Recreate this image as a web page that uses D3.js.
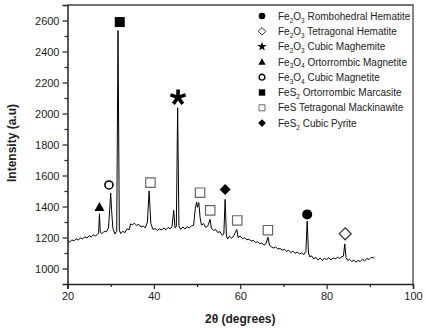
<!DOCTYPE html>
<html>
<head>
<meta charset="utf-8">
<script src="https://cdn.jsdelivr.net/npm/d3@7"></script>
<style>
  body { margin: 0; background: #fff; }
  svg { display: block; font-family: "Liberation Sans", Arial, sans-serif; }
</style>
</head>
<body>
<svg id="xrd" width="426" height="328"></svg>
<script>
// XRD pattern, 2theta (deg) vs intensity (a.u.)
var theta = [20.0,20.5,21.0,21.5,22.0,22.5,23.0,23.5,24.0,24.5,25.0,25.5,26.0,26.5,27.0,27.2,27.4,27.6,28.0,28.5,
  29.0,29.5,29.8,30.0,30.2,30.5,31.0,31.4,31.7,32.0,32.3,32.8,33.3,33.8,34.3,34.6,35.0,35.5,36.0,36.5,
  37.0,37.5,38.0,38.5,38.9,39.3,39.8,40.3,40.8,41.3,41.8,42.3,42.8,43.3,43.8,44.2,44.6,44.9,45.2,45.5,
  45.8,46.2,46.7,47.2,47.7,48.2,48.7,49.2,49.6,49.9,50.1,50.4,50.7,51.0,51.5,52.0,52.5,53.0,53.3,53.8,
  54.3,54.8,55.3,55.8,56.2,56.5,56.8,57.1,57.5,58.0,58.5,59.2,59.5,60.0,60.5,61.0,61.5,62.0,62.5,63.0,
  63.5,64.0,64.5,65.0,65.5,66.0,66.4,66.8,67.2,67.7,68.2,68.7,69.2,69.7,70.2,70.7,71.2,71.7,72.2,72.7,
  73.2,73.7,74.2,74.7,75.2,75.5,75.8,76.1,76.5,77.0,77.5,78.0,78.5,79.0,79.5,80.0,80.5,81.0,81.5,82.0,
  82.5,83.0,83.5,83.9,84.2,84.5,84.9,85.3,85.8,86.3,86.8,87.3,87.8,88.3,88.8,89.3,89.8,90.3,90.8,91.1];
var intensity = [1180,1170,1185,1178,1192,1183,1198,1190,1205,1196,1212,1203,1218,1210,1222,1230,1353,1232,1225,1240,
  1236,1262,1390,1487,1380,1260,1222,1240,2535,1250,1225,1240,1232,1255,1250,1288,1282,1292,1278,1285,
  1268,1275,1262,1300,1500,1290,1252,1258,1246,1255,1248,1262,1250,1265,1256,1270,1375,1262,1270,2037,
  1275,1252,1268,1255,1270,1262,1275,1278,1390,1428,1395,1425,1330,1280,1290,1265,1275,1317,1262,1245,
  1252,1232,1238,1215,1222,1446,1210,1190,1208,1195,1212,1252,1200,1210,1192,1198,1185,1190,1176,1182,
  1168,1172,1160,1165,1150,1162,1202,1148,1140,1132,1138,1125,1130,1118,1124,1110,1118,1102,1112,1098,
  1106,1094,1100,1090,1110,1306,1100,1075,1082,1062,1072,1055,1068,1052,1065,1058,1070,1055,1068,1062,
  1072,1065,1075,1080,1159,1070,1052,1060,1045,1055,1040,1052,1045,1060,1048,1065,1058,1072,1068,1075];

// phase markers placed above the peaks
var markerPhase = ["ortMagnetite","cubMagnetite","marcasite","mackinawite","maghemite","mackinawite",
  "mackinawite","pyrite","mackinawite","mackinawite","romHematite","tetHematite"];
var markerTheta = [27.4,29.6,32.1,39.2,45.6,50.7,53.05,56.5,59.3,66.4,75.5,84.3];
var markerValue = [1396,1539,2590,1554,2104,1489,1375,1509,1310,1247,1349,1224];

// legend
var legendPhase = ["romHematite","tetHematite","maghemite","ortMagnetite","cubMagnetite","marcasite","mackinawite","pyrite"];
var legendLabel = ["Fe_2O_3 Rombohedral Hematite","Fe_2O_3 Tetragonal Hematite","Fe_2O_3 Cubic Maghemite",
  "Fe_3O_4 Ortorrombic Magnetite","Fe_3O_4 Cubic Magnetite","FeS_2 Ortorrombic Marcasite",
  "FeS Tetragonal Mackinawite","FeS_2 Cubic Pyrite"];

var xTicks = [20,40,60,80,100];
var xMinor = [30,50,70,90];
var yTicks = [1000,1200,1400,1600,1800,2000,2200,2400,2600];
var yMinor = [1100,1300,1500,1700,1900,2100,2300,2500];

var margin = {top: 5, right: 13, bottom: 44, left: 67.5},
    width = 426 - margin.left - margin.right,
    height = 328 - margin.top - margin.bottom;

var svg = d3.select("#xrd");
var chart = svg.append("g")
  .attr("transform", "translate(" + margin.left + "," + margin.top + ")");

var x = d3.scaleLinear().domain([20, 100]).range([0, width]);
var y = d3.scaleLinear().domain([900, 2700]).range([height, 0]);

var ink = "#222";

// axes
chart.append("g").attr("transform", "translate(0," + height + ")")
  .call(d3.axisBottom(x).tickValues(xTicks).tickSize(5).tickPadding(3).tickFormat(d3.format("d")));
chart.append("g").attr("transform", "translate(0," + height + ")")
  .call(d3.axisBottom(x).tickValues(xMinor).tickSize(3).tickFormat(""))
  .select(".domain").remove();
chart.append("g")
  .call(d3.axisLeft(y).tickValues(yTicks).tickSize(5).tickPadding(3).tickFormat(d3.format("d")));
chart.append("g")
  .call(d3.axisLeft(y).tickValues(yMinor).tickSize(3).tickFormat(""))
  .select(".domain").remove();

chart.selectAll(".tick line").attr("stroke", ink).attr("stroke-width", 1.2);
chart.selectAll(".domain").attr("stroke", ink).attr("stroke-width", 1.5);
chart.selectAll(".tick text").attr("fill", ink).style("font-size", "11px");

// top and right frame
chart.append("path")
  .attr("d", "M0,0H" + width + "V" + height)
  .attr("fill", "none").attr("stroke", "#444").attr("stroke-width", 1.3);

// axis titles
svg.append("text")
  .attr("transform", "translate(16," + (margin.top + 138) + ") rotate(-90)")
  .attr("text-anchor", "middle")
  .style("font-size", "12px").style("font-weight", "bold").attr("fill", ink)
  .text("Intensity (a.u)");
svg.append("text")
  .attr("x", margin.left + x(60)).attr("y", 323)
  .attr("text-anchor", "middle")
  .style("font-size", "12px").style("font-weight", "bold").attr("fill", ink)
  .text("2\u03b8 (degrees)");

// pattern line
var pts = theta.map(function(t, i) { return [t, intensity[i]]; });
chart.append("path")
  .datum(pts)
  .attr("fill", "none").attr("stroke", "#000").attr("stroke-width", 1)
  .attr("d", d3.line().x(function(d) { return x(d[0]); }).y(function(d) { return y(d[1]); }));

// symbol shapes, s = half size
function shapePath(kind, s) {
  if (kind == "circle") { var p = d3.path(); p.moveTo(s, 0); p.arc(0, 0, s, 0, 2 * Math.PI); return p.toString(); }
  if (kind == "square") return "M" + (-s) + "," + (-s) + "H" + s + "V" + s + "H" + (-s) + "Z";
  if (kind == "diamond") return "M0," + (-s) + "L" + s + ",0L0," + s + "L" + (-s) + ",0Z";
  if (kind == "triangle") return "M0," + (-s) + "L" + s + "," + (s * 0.8) + "L" + (-s) + "," + (s * 0.8) + "Z";
  if (kind == "star") return d3.symbol(d3.symbolStar, s * s * 2.2)();
  if (kind == "asterisk") {
    var d = "";
    for (var k = 0; k < 5; k++) {
      var a = -Math.PI / 2 + k * 2 * Math.PI / 5;
      d += "M0,0L" + (s * Math.cos(a)).toFixed(2) + "," + (s * Math.sin(a)).toFixed(2);
    }
    return d;
  }
  return "";
}

var phaseStyle = {
  romHematite:  {shape: "circle",   fill: "#000", stroke: "none"},
  tetHematite:  {shape: "diamond",  fill: "#fff", stroke: "#333"},
  maghemite:    {shape: "star",     fill: "#000", stroke: "none"},
  ortMagnetite: {shape: "triangle", fill: "#000", stroke: "none"},
  cubMagnetite: {shape: "circle",   fill: "#fff", stroke: "#000"},
  marcasite:    {shape: "square",   fill: "#000", stroke: "none"},
  mackinawite:  {shape: "square",   fill: "#fff", stroke: "#666"},
  pyrite:       {shape: "diamond",  fill: "#000", stroke: "none"}
};
var plotSize = {romHematite: 5, tetHematite: 6, maghemite: 8, ortMagnetite: 5, cubMagnetite: 4,
  marcasite: 5, mackinawite: 4.7, pyrite: 5.5};

var markers = markerPhase.map(function(p, i) { return {phase: p, t: markerTheta[i], v: markerValue[i]}; });
chart.selectAll(".marker")
  .data(markers)
  .join("path")
  .attr("class", "marker")
  .attr("transform", function(d) { return "translate(" + x(d.t) + "," + y(d.v) + ")"; })
  .attr("d", function(d) {
    var st = phaseStyle[d.phase];
    return shapePath(d.phase == "maghemite" ? "asterisk" : st.shape, plotSize[d.phase]);
  })
  .attr("fill", function(d) { return d.phase == "maghemite" ? "none" : phaseStyle[d.phase].fill; })
  .attr("stroke", function(d) { return d.phase == "maghemite" ? "#000" : phaseStyle[d.phase].stroke; })
  .attr("stroke-width", function(d) {
    if (d.phase == "maghemite") return 3.6;
    if (d.phase == "cubMagnetite") return 1.6;
    return 1.2;
  });

// legend
var legendSize = {romHematite: 3.3, tetHematite: 3.8, maghemite: 3.5, ortMagnetite: 3.6, cubMagnetite: 2.9,
  marcasite: 3.2, mackinawite: 3, pyrite: 3.8};
var legend = svg.append("g").attr("transform", "translate(262,16)");
var rows = legend.selectAll("g")
  .data(legendPhase)
  .join("g")
  .attr("transform", function(d, i) { return "translate(0," + (i * 15.3) + ")"; });
rows.append("path")
  .attr("d", function(d) { return shapePath(phaseStyle[d].shape, legendSize[d]); })
  .attr("fill", function(d) { return phaseStyle[d].fill; })
  .attr("stroke", function(d) { return phaseStyle[d].stroke; })
  .attr("stroke-width", function(d) { return d == "cubMagnetite" ? 1.4 : 1; });
rows.each(function(d, i) {
  var t = d3.select(this).append("text")
    .attr("x", 16).attr("y", 3.6)
    .attr("fill", ink).style("font-size", "10px");
  var shift = 0;
  legendLabel[i].split(/(_\d)/).forEach(function(p) {
    if (!p) return;
    if (p[0] == "_") {
      t.append("tspan").attr("dy", 3 - shift).style("font-size", "6.5px").text(p.slice(1));
      shift = 3;
    } else {
      t.append("tspan").attr("dy", -shift).text(p);
      shift = 0;
    }
  });
});
</script>
</body>
</html>
